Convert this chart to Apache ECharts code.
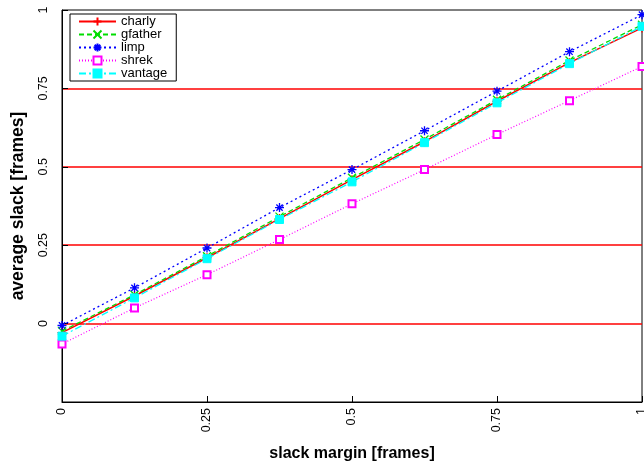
<!DOCTYPE html>
<html>
<head>
<meta charset="utf-8">
<script src="https://cdn.jsdelivr.net/npm/echarts@6/dist/echarts.min.js"></script>
<style>html,body{margin:0;padding:0;background:#fff}#c{width:644px;height:465px}</style>
</head>
<body>
<div id="c"></div>
<script>
var xValues = [0, 0.125, 0.25, 0.375, 0.5, 0.625, 0.75, 0.875, 1];
var charly  = [-0.029, 0.088, 0.210, 0.335, 0.459, 0.580, 0.709, 0.832, 0.943];
var gfather = [-0.024, 0.092, 0.215, 0.341, 0.465, 0.587, 0.714, 0.839, 0.953];
var limp    = [-0.006, 0.114, 0.241, 0.370, 0.491, 0.615, 0.741, 0.867, 0.985];
var shrek   = [-0.065, 0.050, 0.156, 0.268, 0.382, 0.491, 0.603, 0.711, 0.820];
var vantage = [-0.040, 0.082, 0.207, 0.332, 0.452, 0.577, 0.704, 0.829, 0.948];
var seriesNames = ['charly', 'gfather', 'limp', 'shrek', 'vantage'];
var yTickLabels = {'0': '0', '0.25': '0.25', '0.5': '0.5', '0.75': '0.75', '1': '1'};

function pairs(ys) { return xValues.map(function (x, i) { return [x, ys[i]]; }); }

var FONT = '"Liberation Sans", Arial, Helvetica, sans-serif';
var PLUS = 'path://M0,5H10M5,0V10';
var CROSS = 'path://M0,0L10,10M10,0L0,10';
var STAR = 'path://M0,5H10M5,0V10M1.5,1.5L8.5,8.5M8.5,1.5L1.5,8.5';

function mk(name, data, color, symbol, size, dash, bw, lw) {
  return {
    name: name, type: 'line', data: pairs(data),
    symbol: symbol, symbolSize: size, showAllSymbol: true,
    lineStyle: { color: color, width: lw, type: dash },
    itemStyle: { color: color, borderColor: color, borderWidth: bw },
    emphasis: { disabled: true },
    animation: false
  };
}

var chart = echarts.init(document.getElementById('c'), null, { renderer: 'canvas' });
chart.setOption({
  animation: false,
  textStyle: { fontFamily: FONT },
  grid: { left: 62, right: 2, top: 10, bottom: 63,
          outerBounds: { left: -30, top: -30, right: -30, bottom: -30 },
          show: true, borderColor: '#000', borderWidth: 1, backgroundColor: 'transparent' },
  legend: {
    data: seriesNames, orient: 'vertical', left: 70, top: 14,
    backgroundColor: '#fff', borderColor: '#000', borderWidth: 1,
    padding: [1, 9, 1, 8], itemGap: 0, itemWidth: 37, itemHeight: 10,
    textStyle: { fontFamily: FONT, fontSize: 13, color: '#000', lineHeight: 13 }
  },
  xAxis: {
    type: 'value', min: 0, max: 1, interval: 0.25,
    name: 'slack margin [frames]', nameLocation: 'middle', nameGap: 44,
    nameTextStyle: { fontFamily: FONT, fontSize: 16, fontWeight: 'bold', color: '#000' },
    axisLine: { show: true, onZero: false, lineStyle: { color: '#000', width: 1 } },
    axisTick: { show: true, inside: true, length: 6, lineStyle: { color: '#000' } },
    axisLabel: { rotate: 90, fontSize: 12.5, color: '#000', fontFamily: FONT, margin: 6 },
    splitLine: { show: false }
  },
  yAxis: {
    type: 'value', min: -0.25, max: 1, interval: 0.25,
    name: 'average slack [frames]', nameLocation: 'middle', nameGap: 35,
    nameTextStyle: { fontFamily: FONT, fontSize: 17.5, fontWeight: 'bold', color: '#000' },
    axisLine: { show: true, onZero: false, lineStyle: { color: '#000', width: 1 } },
    axisTick: { show: true, inside: true, length: 6, lineStyle: { color: '#000' } },
    axisLabel: {
      rotate: 90, fontSize: 12.5, color: '#000', fontFamily: FONT, margin: 12,
      formatter: function (v) { var k = String(Math.round(v * 100) / 100); return yTickLabels[k] !== undefined ? yTickLabels[k] : ''; }
    },
    splitLine: { show: true, showMinLine: false, showMaxLine: false, lineStyle: { color: '#ff0000', width: 1.5 } }
  },
  series: [
    mk('charly', charly, '#ff0000', PLUS, 9, 'solid', 1.3, 1.5),
    mk('gfather', gfather, '#00dd00', CROSS, 8, [5, 3], 1.3, 1.3),
    mk('limp', limp, '#0000ff', STAR, 9, [2, 3], 1.3, 1.3),
    mk('shrek', shrek, '#ff00ff', 'emptyRect', 7, [1, 2], 1.2, 1.2),
    mk('vantage', vantage, '#00ffff', 'rect', 8, [7, 3, 2, 3], 1, 1.3)
  ]
});
</script>
</body>
</html>
